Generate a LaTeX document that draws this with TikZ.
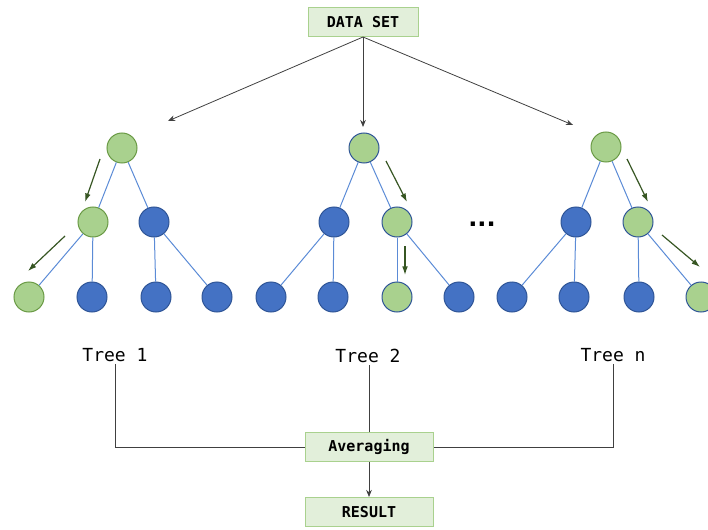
\documentclass[tikz,border=0pt]{standalone}
\usepackage{fontspec}
\setmonofont{DejaVu Sans Mono}
\setsansfont{DejaVu Sans}
\usepackage{tikz}
\usetikzlibrary{positioning, arrows.meta}
\definecolor{boxfill}{HTML}{E2EFDA}
\definecolor{boxline}{HTML}{A9D18E}
\definecolor{leafgreen}{HTML}{A9D18E}
\definecolor{darkgreen}{HTML}{6A9A45}
\definecolor{arrowgreen}{HTML}{375623}
\definecolor{nodeblue}{HTML}{4472C4}
\definecolor{edgeblue}{HTML}{5B8BD6}
\definecolor{rimblue}{HTML}{2F5597}
\tikzstyle{gn}=[%
      circle, draw=darkgreen, fill=leafgreen, line width=1pt,
      minimum size=30pt, inner sep=0pt
]
\tikzstyle{gb}=[%
      circle, draw=rimblue, fill=leafgreen, line width=1pt,
      minimum size=30pt, inner sep=0pt
]
\tikzstyle{bn}=[%
      circle, draw=rimblue, fill=nodeblue, line width=1pt,
      minimum size=30pt, inner sep=0pt
]
\tikzstyle{bx}=[%
      rectangle, draw=boxline, fill=boxfill, line width=1pt,
      minimum height=29pt, minimum width=128pt, inner sep=4pt,
      font=\fontsize{15}{18}\selectfont\ttfamily\bfseries
]
\tikzstyle{lb}=[%
      inner sep=2pt, font=\fontsize{18}{20}\selectfont\ttfamily
]
\tikzstyle{br}=[edgeblue, line width=1pt]
\tikzstyle{ga}=[arrowgreen, line width=1.2pt, -{Latex[length=3mm,width=2mm]}]
\tikzstyle{ln}=[black!75, line width=0.8pt]

\begin{document}
\begin{tikzpicture}[x=1pt, y=-1pt]
    \useasboundingbox (0,0) rectangle (708,529);

    \node[bx, minimum width=110pt] (ds) at (363,22) {DATA SET};

    % tree 1
    \node[gn] (r1)  at (122,148) {};
    \node[gn] (l1)  at (93,222)  {};
    \node[bn] (m1)  at (154,222) {};
    \node[gn] (a1)  at (29,297)  {};
    \node[bn] (b1)  at (92,297)  {};
    \node[bn] (c1)  at (156,297) {};
    \node[bn] (d1)  at (217,297) {};

    % tree 2
    \node[gb] (r2)  at (364,148) {};
    \node[bn] (l2)  at (334,222) {};
    \node[gb] (m2)  at (397,222) {};
    \node[bn] (a2)  at (271,297) {};
    \node[bn] (b2)  at (333,297) {};
    \node[gb] (c2)  at (397,297) {};
    \node[bn] (d2)  at (459,297) {};

    % tree n
    \node[gn] (rn)  at (606,147) {};
    \node[bn] (ln)  at (576,222) {};
    \node[gb] (mn)  at (638,222) {};
    \node[bn] (an)  at (512,297) {};
    \node[bn] (bn)  at (574,297) {};
    \node[bn] (cn)  at (639,297) {};
    \node[gb] (dn)  at (701,297) {};

    \node[font=\fontsize{24}{24}\selectfont\sffamily\bfseries] (dots) at (482,224) {...};

    \path[br] (r1) edge (l1) (r1) edge (m1)
          (l1) edge (a1) (l1) edge (b1) (m1) edge (c1) (m1) edge (d1)
          (r2) edge (l2) (r2) edge (m2)
          (l2) edge (a2) (l2) edge (b2) (m2) edge (c2) (m2) edge (d2)
          (rn) edge (ln) (rn) edge (mn)
          (ln) edge (an) (ln) edge (bn) (mn) edge (cn) (mn) edge (dn)
    ;

    \coordinate (e1) at (168,121);
    \coordinate (e2) at (363,127);
    \coordinate (en) at (573,125);
    \draw[ln, -{Stealth[length=2.5mm,width=2mm]}] (ds.south) -- (e1);
    \draw[ln, -{Stealth[length=2.5mm,width=2mm]}] (ds.south) -- (e2);
    \draw[ln, -{Stealth[length=2.5mm,width=2mm]}] (ds.south) -- (en);

    % paths of the sample
    \draw[ga] (100,159) -- (85,202);
    \draw[ga] (65,236)  -- (28,271);
    \draw[ga] (386,161) -- (407,202);
    \draw[ga] (405,246) -- (405,275);
    \draw[ga] (627,159) -- (648,202);
    \draw[ga] (662,235) -- (700,267);

    \node[lb] (t1) at (115,355) {Tree 1};
    \node[lb] (t2) at (368,356) {Tree 2};
    \node[lb] (tn) at (613,355) {Tree n};

    \node[bx] (avg) at (369,447) {Averaging};
    \node[bx] (res) at (369,512) {RESULT};

    \draw[ln] (t1.south) |- (avg.west);
    \draw[ln] (tn.south) |- (avg.east);
    \draw[ln] (avg.north) -- (avg.north |- t2.south);
    \draw[ln, -{Stealth[length=2.5mm,width=2mm]}] (avg) -- (res);
\end{tikzpicture}
\end{document}
